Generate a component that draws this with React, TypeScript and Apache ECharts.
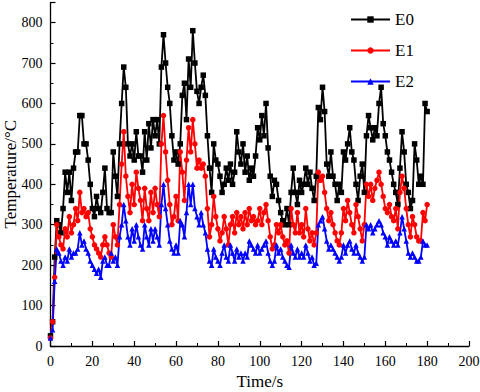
import React, { useEffect, useRef } from "react";
import * as echarts from "echarts";

const STEP = 1; // seconds between samples
const E0 = [25, 60, 220, 310, 300, 280, 340, 430, 380, 430, 360, 440, 480, 480, 570, 570, 500, 500, 460, 400,
  340, 320, 370, 340, 330, 380, 440, 340, 330, 330, 480, 420, 370, 500, 600, 690, 640, 500, 470, 500,
  460, 530, 470, 470, 430, 530, 460, 550, 490, 560, 520, 560, 500, 690, 770, 700, 640, 600, 520, 460,
  480, 450, 500, 620, 650, 560, 710, 640, 780, 700, 630, 600, 640, 670, 620, 520, 440, 380, 500, 460,
  450, 420, 380, 400, 440, 410, 450, 400, 430, 530, 480, 450, 500, 430, 470, 410, 440, 420, 470, 540,
  510, 570, 520, 600, 490, 420, 370, 410, 400, 360, 330, 310, 300, 340, 300, 380, 440, 380, 350, 410,
  380, 400, 440, 400, 430, 390, 360, 420, 590, 560, 640, 580, 450, 420, 480, 420, 400, 360, 400, 380,
  480, 460, 500, 540, 480, 460, 400, 360, 420, 450, 380, 520, 570, 540, 510, 540, 520, 600, 640, 550,
  520, 480, 460, 430, 400, 380, 350, 440, 530, 480, 400, 380, 340, 360, 500, 460, 400, 420, 400, 600, 580];
const E1 = [20, 60, 170, 300, 270, 250, 240, 290, 270, 320, 280, 300, 340, 310, 380, 330, 340, 320, 330, 290,
  270, 250, 240, 230, 220, 250, 270, 250, 230, 220, 300, 270, 250, 350, 450, 530, 420, 370, 330, 400,
  350, 430, 390, 360, 310, 390, 340, 310, 380, 330, 390, 350, 320, 500, 570, 480, 410, 350, 300, 320,
  370, 310, 480, 430, 360, 460, 540, 480, 560, 500, 440, 460, 440, 450, 420, 340, 270, 300, 370, 320,
  290, 260, 280, 320, 290, 250, 300, 320, 280, 330, 300, 320, 290, 330, 300, 340, 310, 320, 300, 310,
  340, 300, 330, 350, 310, 270, 240, 250, 300, 280, 300, 270, 250, 260, 230, 340, 300, 280, 330, 280,
  300, 270, 340, 290, 260, 280, 250, 280, 430, 410, 420, 380, 340, 310, 330, 300, 280, 260, 250, 280,
  340, 310, 360, 330, 300, 280, 350, 320, 290, 260, 300, 400, 370, 400, 360, 390, 410, 430, 400, 370,
  340, 330, 350, 320, 310, 340, 290, 380, 420, 390, 340, 300, 270, 320, 300, 270, 260, 260, 330, 310, 350];
const E2 = [20, 40, 160, 240, 230, 210, 200, 220, 210, 240, 220, 230, 230, 240, 280, 250, 260, 240, 230, 210,
  200, 190, 180, 190, 170, 210, 220, 200, 200, 230, 210, 220, 200, 270, 300, 350, 310, 270, 250, 290,
  260, 300, 270, 250, 240, 300, 270, 250, 290, 260, 290, 270, 250, 350, 400, 340, 300, 260, 240, 230,
  250, 230, 310, 300, 270, 330, 400, 350, 400, 340, 320, 300, 330, 300, 280, 240, 210, 200, 240, 220,
  210, 200, 230, 250, 220, 210, 250, 230, 210, 240, 220, 230, 210, 230, 220, 260, 250, 240, 230, 250,
  230, 240, 250, 260, 230, 210, 200, 210, 250, 230, 240, 220, 210, 200, 195, 250, 230, 220, 240, 220,
  230, 220, 250, 230, 210, 220, 200, 205, 300, 310, 320, 290, 260, 240, 250, 240, 230, 220, 210, 220,
  250, 230, 250, 260, 240, 230, 250, 230, 220, 210, 220, 300, 290, 300, 280, 290, 300, 310, 300, 280,
  270, 250, 270, 260, 250, 260, 250, 280, 320, 290, 260, 230, 220, 230, 220, 210, 210, 220, 260, 250, 250];

const NAMES = ["E0", "E1", "E2"];
const COLORS = ["#000000", "#ff0000", "#0000ff"];
const SYMBOLS = ["rect", "circle", "triangle"];
const X_TICKS = ["0", "20", "40", "60", "80", "100", "120", "140", "160", "180", "200"];

const FONT = "'Liberation Serif', 'Times New Roman', serif";

export default function App() {
  const ref = useRef<HTMLDivElement>(null);
  useEffect(() => {
    if (!ref.current) return;
    const chart = echarts.init(ref.current, undefined, { renderer: "svg" });
    const all = [E0, E1, E2];
    const labelStyle = { fontFamily: FONT, fontSize: 14, color: "#000" };
    chart.setOption({
      animation: false,
      backgroundColor: "#ffffff",
      textStyle: { fontFamily: FONT },
      grid: { left: 50.5, right: 11, top: 2.4, bottom: 46, containLabel: false, outerBoundsMode: "none" },
      legend: {
        left: 350,
        top: 11,
        padding: 0,
        orient: "vertical",
        itemWidth: 39,
        itemHeight: 8,
        itemGap: 14,
        data: NAMES,
        textStyle: { fontFamily: FONT, fontSize: 17, color: "#000" },
      },
      xAxis: {
        type: "value",
        min: 0,
        max: 200,
        interval: 20,
        name: "Time/s",
        nameLocation: "middle",
        nameGap: 27,
        nameTextStyle: { fontFamily: FONT, fontSize: 17, color: "#000" },
        axisLine: { lineStyle: { color: "#000", width: 1.3 } },
        axisTick: { inside: true, length: 5, lineStyle: { color: "#000", width: 1.2 } },
        minorTick: { show: true, splitNumber: 2, length: 3, lineStyle: { color: "#000", width: 1 } },
        splitLine: { show: false },
        axisLabel: {
          ...labelStyle, margin: 8,
          formatter: (v: number) => (X_TICKS.includes(String(v)) ? String(v) : ""),
          rich: { a: labelStyle },
        },
      },
      yAxis: {
        type: "value",
        min: 0,
        max: 850,
        interval: 100,
        name: "Temperature/\u00b0C",
        nameLocation: "middle",
        nameGap: 32,
        nameMoveOverlap: false,
        nameTextStyle: { fontFamily: FONT, fontSize: 17, color: "#000" },
        axisLine: { show: true, lineStyle: { color: "#000", width: 1.3 } },
        axisTick: { show: true, inside: true, length: 5, lineStyle: { color: "#000", width: 1.2 } },
        minorTick: { show: true, splitNumber: 2, length: 3, lineStyle: { color: "#000", width: 1 } },
        splitLine: { show: false },
        axisLabel: {
          ...labelStyle, margin: 8, showMaxLabel: false,
          formatter: (v: number) => (v % 100 === 0 ? String(v) : ""),
        },
      },
      series: all.map((vals, k) => ({
        name: NAMES[k],
        type: "line",
        data: vals.map((v, i) => [i * STEP, v]),
        symbol: SYMBOLS[k],
        symbolSize: 5.5,
        showSymbol: true,
        showAllSymbol: true,
        color: COLORS[k],
        lineStyle: { color: COLORS[k], width: 1.8 },
        itemStyle: { color: COLORS[k] },
      })),
    });
    return () => chart.dispose();
  }, []);
  return <div ref={ref} style={{ width: 480, height: 392, position: "absolute", left: 0, top: 0 }} />;
}
